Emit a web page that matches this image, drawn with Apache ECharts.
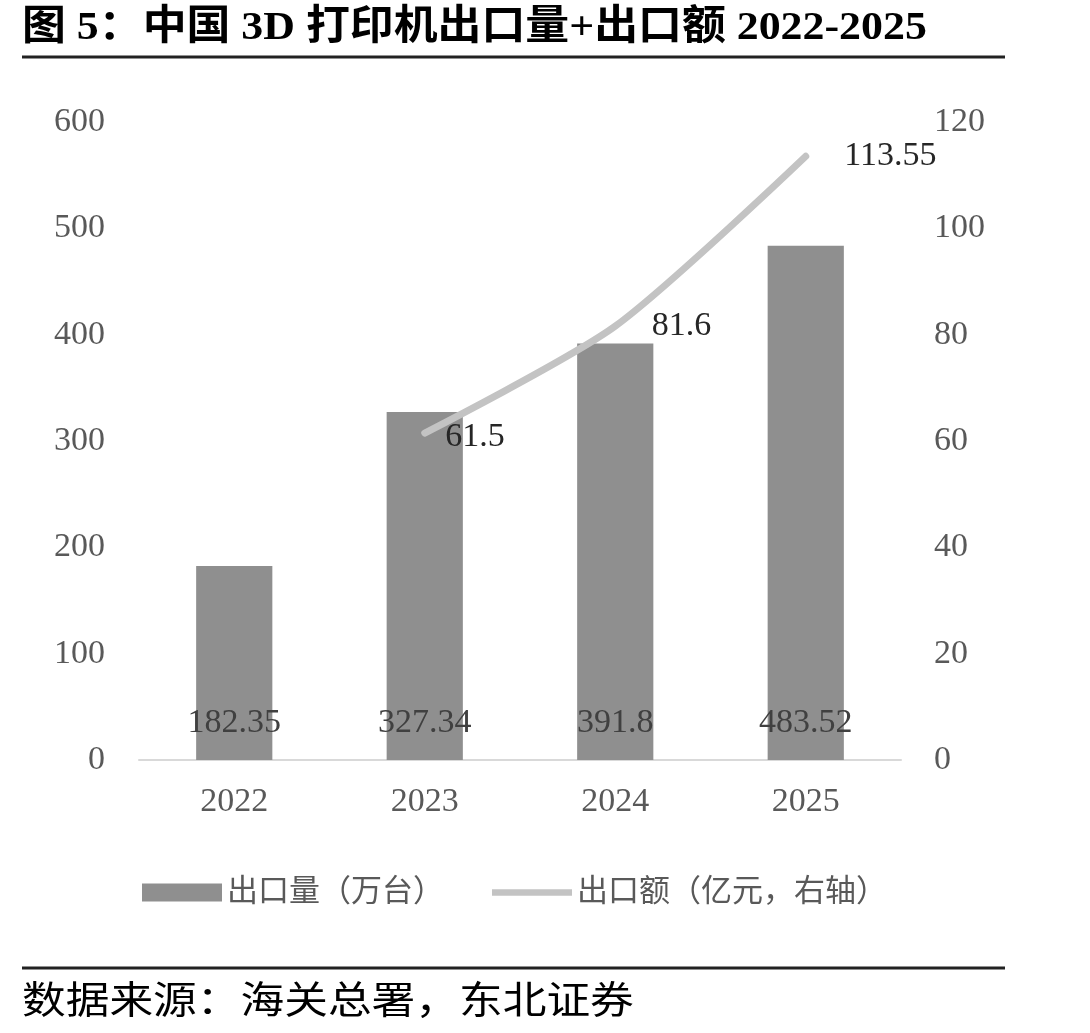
<!DOCTYPE html>
<html>
<head>
<meta charset="utf-8">
<script src="https://cdn.jsdelivr.net/npm/echarts@6/dist/echarts.min.js"></script>
<style>
  html, body { margin: 0; padding: 0; background: #fff; }
  #chart { width: 1090px; height: 1033px; }
</style>
</head>
<body>
<div id="chart"></div>
<script>
// 数据
const years = ['2022', '2023', '2024', '2025']
const exportVolume = [182.35, 327.34, 391.8, 483.52]   // 出口量(万台)
const exportValue = [null, 61.5, 81.6, 113.55]          // 出口额(亿元)
const leftTicks = [0, 600, 100]
const rightTicks = [0, 120, 20]

const serif = "'Liberation Serif', 'Times New Roman', serif"
const cjk = "'Liberation Serif', 'Noto Sans CJK SC', sans-serif"

// 折线标签离点的距离
const valueLabelGap = [0, 20, 36, 38]

const chart = echarts.init(document.getElementById('chart'))

chart.setOption({
  backgroundColor: '#fff',
  animation: false,
  grid: { left: 139, right: 189, top: 122, bottom: 273 },
  legend: {
    left: 137,
    top: 872,
    itemWidth: 80,
    itemHeight: 18,
    itemGap: 48,
    textStyle: { fontSize: 31, color: '#595959', fontFamily: cjk },
    data: [
      { name: '出口量（万台）', icon: 'rect' },
      {
        name: '出口额（亿元，右轴）',
        icon: 'path://M0,0L88,0L88,7L0,7Z',
        itemStyle: { color: '#c3c3c3' }
      }
    ]
  },
  xAxis: {
    type: 'category',
    data: years,
    axisLine: { lineStyle: { color: '#d9d9d9', width: 2 } },
    axisTick: { show: false },
    axisLabel: { fontSize: 34, color: '#595959', fontFamily: serif, margin: 25 }
  },
  yAxis: [
    {
      type: 'value',
      min: leftTicks[0], max: leftTicks[1], interval: leftTicks[2],
      splitLine: { show: false },
      axisLabel: { fontSize: 34, color: '#595959', fontFamily: serif, margin: 34 }
    },
    {
      type: 'value',
      min: rightTicks[0], max: rightTicks[1], interval: rightTicks[2],
      splitLine: { show: false },
      axisLabel: { fontSize: 34, color: '#595959', fontFamily: serif, margin: 33 }
    }
  ],
  series: [
    {
      name: '出口量（万台）',
      type: 'bar',
      data: exportVolume,
      barWidth: '40%',
      itemStyle: { color: '#8f8f8f' },
      label: {
        show: true,
        position: 'insideBottom',
        distance: 20,
        fontSize: 34,
        color: '#404040',
        fontFamily: serif
      }
    },
    {
      name: '出口额（亿元，右轴）',
      type: 'line',
      yAxisIndex: 1,
      smooth: 0.25,
      showSymbol: true,
      symbol: 'circle',
      symbolSize: 1,
      connectNulls: false,
      lineStyle: { color: '#c3c3c3', width: 7, cap: 'round' },
      itemStyle: { color: '#c3c3c3' },
      data: exportValue.map((v, i) => ({
        value: v,
        label: {
          show: v != null,
          position: 'right',
          distance: valueLabelGap[i],
          offset: [0, i === 1 ? 4 : 0],
          fontSize: 34,
          color: '#262626',
          fontFamily: serif
        }
      }))
    }
  ],
  graphic: [
    {
      type: 'text',
      x: 22,
      y: 8,
      scaleX: 1.07,
      style: {
        text: '图 5：中国 3D 打印机出口量+出口额 2022-2025',
        font: "bold 41px 'Liberation Serif', 'Noto Sans CJK SC', serif",
        fill: '#000'
      }
    },
    {
      type: 'line',
      shape: { x1: 22, y1: 57, x2: 1005, y2: 57 },
      style: { stroke: '#222', lineWidth: 3 }
    },
    {
      type: 'line',
      shape: { x1: 22, y1: 968, x2: 1005, y2: 968 },
      style: { stroke: '#222', lineWidth: 3 }
    },
    {
      type: 'text',
      x: 22,
      y: 980,
      scaleX: 1.15,
      style: {
        text: '数据来源：海关总署，东北证券',
        font: "38px 'Noto Sans CJK SC', sans-serif",
        fill: '#000'
      }
    }
  ]
})
</script>
</body>
</html>
